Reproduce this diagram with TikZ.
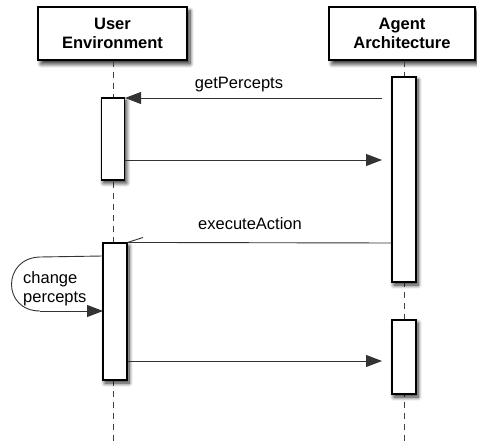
\documentclass[tikz,border=0pt]{standalone}
\usepackage{fontspec}
\setmainfont{Liberation Sans}
\usetikzlibrary{arrows.meta,shadows.blur}
\tikzset{
  head/.style={draw, fill=white, line width=1.1pt, minimum height=53pt, inner sep=0pt,
    align=center, font=\fontsize{16.5}{19}\selectfont\bfseries,
    blur shadow={shadow xshift=3pt, shadow yshift=-4pt, shadow blur radius=4pt, shadow opacity=85, shadow blur steps=8}},
  bar/.style={draw, fill=white, line width=1.1pt, inner sep=0pt, minimum width=23pt,
    blur shadow={shadow xshift=2pt, shadow yshift=-3pt, shadow blur radius=4pt, shadow opacity=85, shadow blur steps=8}},
  lifeline/.style={draw=black!75, line width=0.9pt, dash pattern=on 6pt off 5pt},
  msg/.style={line width=0.9pt, draw=black!80, -{Triangle[length=16pt,width=12pt]}},
  plain/.style={line width=0.9pt, draw=black!80},
  lbl/.style={font=\fontsize{16.5}{19}\selectfont, inner sep=0pt}
}
\begin{document}
\begin{tikzpicture}[x=1pt,y=-1pt]
\useasboundingbox (0,0) rectangle (477,443);
% lifelines
\coordinate (ub) at (113,443);
\coordinate (ab) at (404,443);
\node[head, minimum width=149pt] (uh) at (112.5,33.5) {User\\Environment};
\node[head, minimum width=146pt] (ah) at (402,33.5) {Agent\\Architecture};
\draw[lifeline] (uh.south -| ub) -- (ub);
\draw[lifeline] (ah.south -| ab) -- (ab);
% activation bars
\node[bar, minimum height=82pt] (u1) at (113,139) {};
\node[bar, minimum height=205pt, minimum width=24pt] (a1) at (404,179.5) {};
\node[bar, minimum height=74pt, minimum width=24pt] (a2) at (404,357) {};
\node[bar, minimum height=137pt, minimum width=24pt] (u2) at (115,311.5) {};
% getPercepts
\coordinate (gp) at (382,98);
\draw[msg] (gp) -- (u1.east |- gp);
\node[lbl, anchor=base] (gpl) at (239,89) {getPercepts};
% return 1
\coordinate (r1) at (382,160);
\draw[msg] (u1.east |- r1) -- (r1);
% executeAction
\coordinate (ea) at (392,243);
\coordinate (eh) at (143,237.5);
\draw[plain] (a1.west |- ea) -- (u2.north east);
\draw[plain] (u2.north east) -- (eh);
\node[lbl, anchor=base] (eal) at (250,230) {executeAction};
% change percepts self loop
\coordinate (cs) at (103,256);
\coordinate (ce) at (103,311);
\draw[plain] (cs) -- (40,257) .. controls (2,258) and (2,311) .. (40,311);
\draw[msg] (40,311) -- (ce);
\node[lbl, anchor=north west, align=left] (cpl) at (23,271) {change\\percepts};
% return 2
\coordinate (r2) at (382,361);
\draw[msg] (u2.east |- r2) -- (r2);
\end{tikzpicture}
\end{document}
